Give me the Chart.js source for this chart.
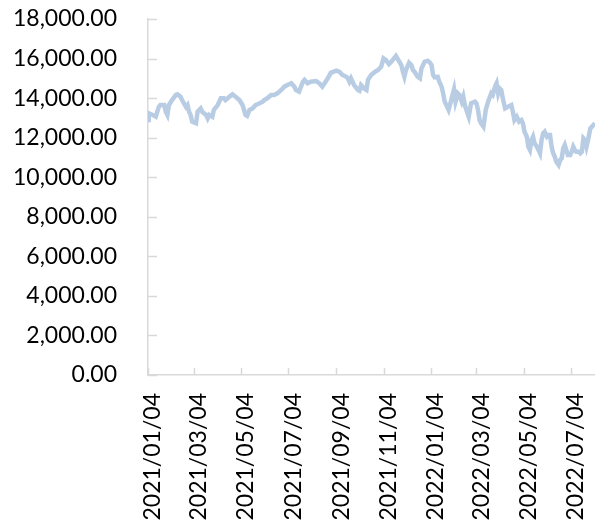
<!DOCTYPE html>
<html lang="en">
<head>
    <meta charset="UTF-8">
    <title>Index</title>
    <script src="https://cdn.jsdelivr.net/npm/chart.js"></script>
    <style>
        html, body { margin: 0; padding: 0; background: #fff; }
        #wrap { width: 595px; height: 524px; }
    </style>
</head>
<body>
    <div id="wrap"><canvas id="myChart" width="595" height="524"></canvas></div>

    <script>
        // days counted from 2021/01/04
        const days = [0, 1, 6, 10, 12, 14, 16, 21, 23, 25, 27, 31, 36, 38, 42, 44, 49, 51, 53, 55, 57, 62, 64, 68, 70,
            75, 77, 79, 83, 85, 90, 94, 98, 100, 105, 109, 113, 118, 122, 126, 128, 131, 135, 139, 144, 148, 150,
            154, 159, 163, 167, 172, 176, 180, 185, 189, 191, 195, 200, 202, 206, 210, 217, 221, 225, 228, 232,
            236, 243, 247, 251, 256, 258, 260, 262, 266, 271, 273, 275, 279, 282, 284, 288, 292, 297, 301, 304,
            307, 311, 314, 316, 320, 323, 327, 329, 331, 333, 337, 340, 342, 344, 348, 351, 353, 357, 361, 364,
            366, 368, 370, 374, 376, 379, 381, 383, 386, 388, 392, 395, 397, 400, 402, 405, 407, 409, 411, 414,
            417, 422, 424, 426, 428, 430, 433, 436, 439, 443, 445, 448, 450, 452, 454, 456, 458, 461, 465, 469,
            471, 473, 476, 479, 482, 484, 486, 489, 491, 493, 495, 497, 499, 502, 504, 506, 508, 510, 512, 515,
            517, 519, 521, 523, 525, 527, 530, 532, 534, 536, 538, 540, 542, 545, 547, 549, 551, 553, 556, 558,
            560, 562, 564, 566, 568, 571, 575, 577];

        const values = [12890, 13230, 13150, 13060, 13310, 13560, 13650, 13650, 13310, 13150, 13650, 13900, 14160,
            14190, 14070, 13900, 13560, 13650, 13310, 13150, 12810, 12730, 13310, 13480, 13310, 13150, 12980, 13150,
            13060, 13400, 13650, 13990, 13990, 13900, 14070, 14190, 14070, 13900, 13650, 13150, 13100, 13400, 13480,
            13650, 13740, 13820, 13900, 13990, 14160, 14160, 14240, 14410, 14580, 14660, 14750, 14580, 14410, 14330,
            14830, 14920, 14750, 14830, 14860, 14750, 14580, 14750, 15000, 15280, 15390, 15340, 15170, 15080, 15000,
            14830, 15000, 14660, 14410, 14370, 14660, 14490, 14410, 14920, 15170, 15300, 15420, 15590, 16010, 15930,
            15720, 15840, 15930, 16130, 15930, 15670, 15340, 15080, 15420, 15790, 15670, 15420, 15340, 15080, 15000,
            15500, 15840, 15890, 15790, 15670, 15170, 15050, 15080, 14830, 14580, 14240, 13820, 13570, 13400, 13990,
            14440, 13820, 14240, 14160, 13820, 14070, 13650, 13400, 13060, 13740, 13820, 13740, 13400, 12890, 12720,
            12560, 13400, 13820, 14240, 14160, 14580, 14750, 14240, 14490, 14410, 13990, 13480, 13570, 13650, 13310,
            12890, 13060, 12810, 12890, 12720, 12300, 12050, 11540, 11380, 11880, 12050, 11710, 11540, 11380, 11210,
            11880, 12220, 12300, 12050, 12130, 12130, 11540, 11210, 11040, 10790, 10620, 10870, 10950, 11460, 11630,
            11380, 11120, 11120, 11290, 11540, 11380, 11290, 11290, 11210, 11290, 11970, 11880, 11540, 11880, 12470,
            12640, 12730];

        const tickDays = [0, 59, 120, 181, 243, 304, 365, 424, 485, 546];
        const tickLabels = ['2021/01/04', '2021/03/04', '2021/05/04', '2021/07/04', '2021/09/04',
            '2021/11/04', '2022/01/04', '2022/03/04', '2022/05/04', '2022/07/04'];

        const axisColor = '#d9d9d9';

        // Excel style tick marks pointing into the plot
        const innerTicks = {
            id: 'innerTicks',
            afterDraw(chart) {
                const ctx = chart.ctx;
                const xs = chart.scales.x, ys = chart.scales.y;
                const area = chart.chartArea;
                ctx.save();
                ctx.strokeStyle = axisColor;
                ctx.lineWidth = 1.5;
                ctx.beginPath();
                ys.ticks.forEach(t => {
                    const py = Math.round(ys.getPixelForValue(t.value)) + 0.5;
                    ctx.moveTo(area.left, py);
                    ctx.lineTo(area.left + 9, py);
                });
                xs.ticks.forEach(t => {
                    const px = Math.round(xs.getPixelForValue(t.value)) + 0.5;
                    ctx.moveTo(px, area.bottom);
                    ctx.lineTo(px, area.bottom - 7);
                });
                ctx.stroke();
                ctx.restore();
            }
        };

        const ctx = document.getElementById('myChart').getContext('2d');
        const myChart = new Chart(ctx, {
            type: 'line',
            data: {
                datasets: [{
                    data: days.map((d, i) => ({ x: d, y: values[i] })),
                    borderColor: '#b8cce4',
                    borderWidth: 4.5,
                    pointRadius: 0,
                    tension: 0
                }]
            },
            options: {
                responsive: false,
                animation: false,
                layout: { padding: { top: 19, right: 0, left: 0, bottom: 0 } },
                plugins: {
                    legend: { display: false },
                    tooltip: { enabled: false }
                },
                scales: {
                    x: {
                        type: 'linear',
                        min: 0,
                        max: 577,
                        afterBuildTicks: scale => {
                            scale.ticks = tickDays.map(v => ({ value: v }));
                        },
                        afterFit: scale => {
                            scale.height = 149;
                            scale.paddingLeft = 0;
                            scale.paddingRight = 0;
                        },
                        grid: { display: false, drawTicks: false },
                        border: { color: axisColor, width: 1.5 },
                        ticks: {
                            minRotation: 90,
                            maxRotation: 90,
                            padding: 18,
                            labelOffset: 5,
                            color: '#000',
                            font: { family: 'Lato', size: 23 },
                            callback: v => tickLabels[tickDays.indexOf(v)]
                        }
                    },
                    y: {
                        min: 0,
                        max: 18000,
                        afterFit: scale => {
                            scale.width = 148;
                            scale.paddingTop = 0;
                            scale.paddingBottom = 0;
                        },
                        grid: { display: false, drawTicks: false },
                        border: { color: axisColor, width: 1.5 },
                        ticks: {
                            stepSize: 2000,
                            padding: 31,
                            color: '#000',
                            font: { family: 'Lato', size: 23 },
                            callback: v => v.toLocaleString('en-US', { minimumFractionDigits: 2, maximumFractionDigits: 2 })
                        }
                    }
                }
            },
            plugins: [innerTicks]
        });
    </script>
</body>
</html>
